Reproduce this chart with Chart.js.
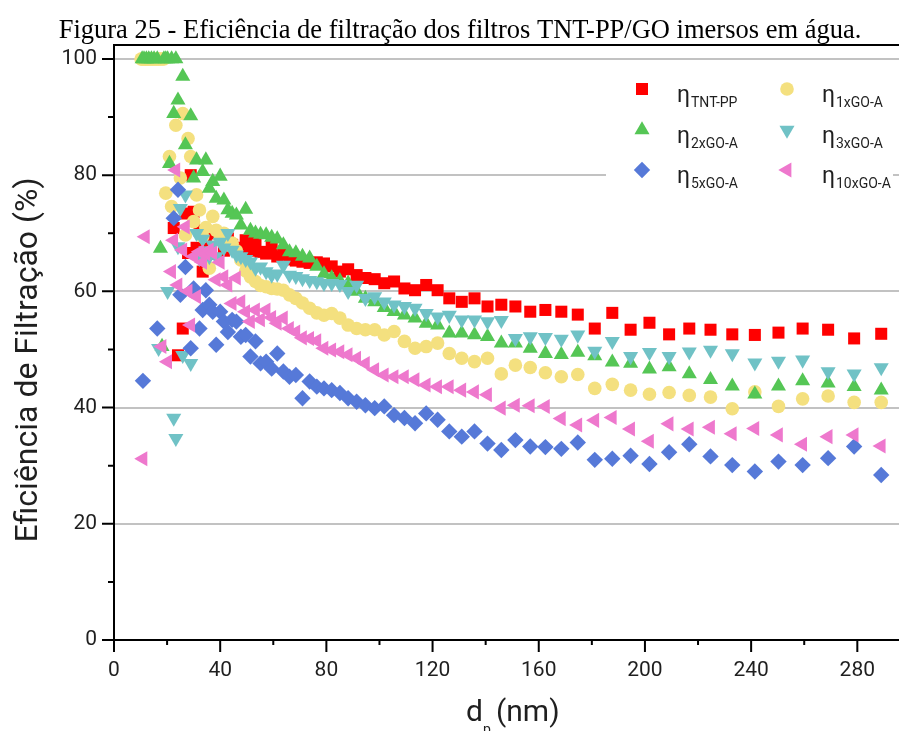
<!DOCTYPE html>
<html>
<head>
<meta charset="utf-8">
<script src="https://cdn.jsdelivr.net/npm/chart.js@4.4.1/dist/chart.umd.min.js"></script>
<style>
  html, body { margin: 0; padding: 0; background: #fff; overflow: hidden; }
  #wrap { width: 899px; height: 731px; position: relative; }
</style>
</head>
<body>
<div id="wrap"><canvas id="chart"></canvas></div>
<script>
// particle mobility diameters (nm), one SMPS channel per entry
const diameters = [
  10.2, 10.6, 10.9, 11.3, 11.8, 12.2, 12.6, 13.1, 13.6, 14.1,
  14.6, 15.1, 15.7, 16.3, 16.8, 17.5, 18.1, 18.8, 19.5, 20.2,
  20.9, 21.7, 22.5, 23.3, 24.1, 25.0, 25.9, 26.9, 27.9, 28.9,
  30.0, 31.1, 32.2, 33.4, 34.6, 35.9, 37.2, 38.5, 40.0, 41.4,
  42.9, 44.5, 46.1, 47.8, 49.6, 51.4, 53.3, 55.2, 57.3, 59.4,
  61.5, 63.8, 66.1, 68.5, 71.0, 73.7, 76.4, 79.1, 82.0, 85.1,
  88.2, 91.4, 94.7, 98.2, 101.8, 105.5, 109.4, 113.4, 117.6, 121.9,
  126.3, 131.0, 135.8, 140.7, 145.9, 151.2, 156.8, 162.5, 168.5, 174.7,
  181.1, 187.7, 194.6, 201.7, 209.1, 216.7, 224.7, 232.9, 241.4, 250.3,
  259.4, 269.0, 278.8, 289.0
];

// filtration efficiency (%) per channel, null = no reading
const etaTNT = [
  null, null, null, null, null, null, null, null, null, null,
  null, null, null, null, null, null, null, null, null, null,
  null, null, 70.9, null, 49.0, null, 53.6, 73.4, 66.6, 80.0,
  73.7, 67.5, 70.5, 63.4, 68.0, 66.5, 70.0, 70.0, 69.4, 67.0,
  69.1, 68.0, 67.5, 67.0, 68.8, 67.0, 68.6, 66.8, 66.5, 67.7,
  66.0, 66.3, 65.5, 65.3, 65.1, 64.9, 65.0, 64.8, 64.3, 63.4,
  63.8, 62.8, 62.3, 62.1, 61.4, 61.7, 60.5, 60.2, 61.1, 60.2,
  58.8, 58.2, 58.8, 57.4, 57.7, 57.4, 56.5, 56.8, 56.5, 56.0,
  53.6, 56.3, 53.4, 54.6, 52.6, 53.6, 53.4, 52.6, 52.5, 52.9,
  53.6, 53.4, 51.9, 52.7
];
const eta1xGO = [
  100, 100, 100, 100, 100, 100, 100, 100, 100, 100,
  100, 100, 100, 100, 100, 100, 100, 100, 76.9, null,
  83.2, 74.6, null, 88.6, null, 79.5, 90.6, 69.7, 86.3, 83.2,
  72.0, 76.6, 74.0, 69.4, 71.0, 64.0, 72.9, 70.5, 69.0, 70.0,
  68.0, 68.3, 67.0, 65.4, 63.5, 62.5, 61.7, 61.0, 60.8, 60.5,
  60.4, 60.2, 59.4, 58.8, 58.0, 57.1, 56.3, 55.9, 56.2, 55.4,
  54.2, 53.6, 53.4, 53.4, 52.5, 53.1, 51.4, 50.2, 50.5, 51.1,
  49.3, 48.5, 47.9, 48.5, 45.8, 47.3, 46.9, 46.0, 45.3, 45.7,
  43.3, 44.0, 43.0, 42.3, 42.6, 42.1, 41.8, 39.8, 42.7, 40.2,
  41.5, 42.0, 40.9, 40.9
];
const eta2xGO = [
  null, 100, null, 100, null, 100, null, 100, null, 100,
  null, 100, null, 100, null, 67.4, 50.5, 100, 100, 100,
  82.0, 100, 90.6, 100, 92.9, null, 97.0, 85.2, null, 90.2,
  79.5, 82.6, null, 80.6, 82.6, 77.7, 78.9, 76.0, 79.8, 75.7,
  74.0, 73.4, 73.1, 71.4, 74.1, 70.5, 70.0, 69.8, 69.7, 69.3,
  69.0, 68.0, 66.8, 66.6, 66.0, 65.7, 64.3, 63.0, 62.3, 61.8,
  61.4, 60.0, 58.8, 58.2, 57.2, 56.5, 55.9, 55.4, 54.5, 54.2,
  52.8, 52.8, 52.5, 52.2, 51.1, 51.1, 50.2, 49.3, 49.1, 49.5,
  48.9, 47.8, 47.6, 46.6, 47.0, 45.8, 44.8, 43.7, 42.3, 43.7,
  44.6, 44.2, 43.6, 43.0
];
const eta3xGO = [
  null, null, null, null, null, null, null, null, null, null,
  null, null, null, null, 50.2, null, null, null, null, 60.0,
  null, null, 38.2, 34.7, 67.7, 74.3, 49.0, 76.6, null, 47.6,
  null, 70.0, 65.7, 69.0, 67.0, 66.0, 68.0, 66.0, 68.5, 67.5,
  70.0, 67.1, 66.3, 66.0, 65.5, 65.1, 64.0, 64.2, 63.4, 62.8,
  63.0, 64.5, 62.8, 62.6, 62.2, 61.9, 61.7, 61.4, 61.4, 61.2,
  60.0, 61.1, 58.8, 59.1, 58.2, 57.7, 57.4, 57.1, 56.2, 55.6,
  55.9, 55.1, 55.1, 54.8, 55.0, 51.9, 52.2, 52.1, 51.8, 52.5,
  49.7, 51.4, 48.8, 49.5, 48.8, 49.6, 49.9, 49.3, 47.7, 48.0,
  48.2, 46.2, 45.8, 46.9
];
const eta5xGO = [
  null, null, 44.6, null, null, null, null, null, null, null,
  null, null, null, 53.6, null, null, null, null, null, null,
  null, null, 72.6, null, 77.5, 59.4, null, 64.2, null, 50.2,
  60.5, null, 53.6, 56.8, 60.2, 57.7, 56.5, 50.8, 56.5, 54.8,
  53.0, 55.1, 54.8, 52.2, 52.5, 48.8, 51.4, 47.6, 47.9, 46.7,
  49.3, 46.2, 45.3, 45.6, 41.6, 44.5, 43.6, 43.3, 43.0, 42.5,
  41.6, 41.0, 40.4, 39.9, 40.2, 38.7, 38.2, 37.3, 39.0, 37.9,
  35.9, 35.0, 35.9, 33.8, 32.7, 34.4, 33.3, 33.2, 32.9, 34.0,
  31.0, 31.2, 31.7, 30.3, 32.3, 33.7, 31.6, 30.1, 29.0, 30.7,
  30.1, 31.3, 33.3, 28.4
];
const eta10xGO = [
  null, null, 31.2, null, 69.4, null, null, null, null, null,
  null, null, null, null, null, null, 50.5, null, null, 47.9,
  null, 63.4, 68.8, 80.9, 61.1, null, 67.1, 71.1, 60.0, 54.2,
  66.0, 59.1, 66.8, 65.0, 66.5, 67.1, 66.6, 62.0, 65.0, 62.5,
  61.1, 57.9, 62.3, 58.2, 56.5, 54.8, 56.8, 55.1, 56.8, 55.5,
  54.5, 55.4, 53.6, 53.0, 52.0, 51.9, 51.5, 50.2, 49.9, 49.6,
  49.1, 48.5, 47.6, 46.5, 45.6, 45.3, 45.3, 44.8, 43.9, 43.6,
  43.6, 43.0, 42.7, 42.2, 39.9, 40.4, 40.3, 40.2, 38.1, 37.0,
  37.8, 38.3, 36.3, 34.2, 37.2, 36.3, 36.6, 35.5, 36.4, 35.3,
  33.7, 35.0, 35.3, 33.4
];

const xTicks = [0, 40, 80, 120, 160, 200, 240, 280];
const xMinorTicks = [20, 60, 100, 140, 180, 220, 260];
const yTicks = [0, 20, 40, 60, 80, 100];
const yMinorTicks = [10, 30, 50, 70, 90];

const series = [
  { sub: 'TNT-PP', values: etaTNT, color: '#ff0000', style: 'rect', rotation: 0, radius: 8.5 },
  { sub: '1xGO-A', values: eta1xGO, color: '#f4e07f', style: 'circle', rotation: 0, radius: 6.8 },
  { sub: '2xGO-A', values: eta2xGO, color: '#55c655', style: 'triangle', rotation: 0, radius: 8.7 },
  { sub: '3xGO-A', values: eta3xGO, color: '#70c2c6', style: 'triangle', rotation: 180, radius: 8.7 },
  { sub: '5xGO-A', values: eta5xGO, color: '#5679d8', style: 'rectRot', rotation: 0, radius: 8.2 },
  { sub: '10xGO-A', values: eta10xGO, color: '#ee78cd', style: 'triangle', rotation: -90, radius: 8.7 }
];

function toPoints(values) {
  const pts = [];
  values.forEach((v, i) => {
    if (v !== null) pts.push({ x: diameters[i], y: v });
  });
  return pts;
}

const textColor = '#1f1f1f';
const sansFont = 'Roboto, "Noto Sans", sans-serif';

// axes decorations, titles and the legend with subscripts
const decorPlugin = {
  id: 'decor',
  afterDraw(chart) {
    const ctx = chart.ctx;
    const xs = chart.scales.x, ys = chart.scales.y;
    const area = chart.chartArea;
    ctx.save();

    // tick marks, long at labelled values and short in between
    ctx.strokeStyle = '#000';
    ctx.lineWidth = 2;
    ctx.beginPath();
    xTicks.forEach(v => { const px = xs.getPixelForValue(v); ctx.moveTo(px, area.bottom); ctx.lineTo(px, area.bottom + 12); });
    xMinorTicks.forEach(v => { const px = xs.getPixelForValue(v); ctx.moveTo(px, area.bottom); ctx.lineTo(px, area.bottom + 5); });
    yTicks.forEach(v => { const py = ys.getPixelForValue(v); ctx.moveTo(area.left, py); ctx.lineTo(area.left - 12, py); });
    yMinorTicks.forEach(v => { const py = ys.getPixelForValue(v); ctx.moveTo(area.left, py); ctx.lineTo(area.left - 6, py); });
    // top frame line
    ctx.moveTo(area.left - 1, area.top);
    ctx.lineTo(area.right, area.top);
    ctx.stroke();

    // figure caption
    ctx.fillStyle = '#000';
    ctx.font = '26.5px "Liberation Serif", "Times New Roman", serif';
    ctx.textAlign = 'center';
    ctx.textBaseline = 'alphabetic';
    ctx.fillText('Figura 25 - Eficiência de filtração dos filtros TNT-PP/GO imersos em água.', 460, 38);

    // y axis title
    ctx.fillStyle = textColor;
    ctx.font = '32px ' + sansFont;
    ctx.save();
    ctx.translate(37, 360);
    ctx.rotate(-Math.PI / 2);
    ctx.textAlign = 'center';
    ctx.fillText('Eficiência de Filtração (%)', 0, 0);
    ctx.restore();

    // x axis title with subscript p
    ctx.textAlign = 'left';
    ctx.font = '30px ' + sansFont;
    ctx.fillText('d', 466, 721);
    ctx.font = '14px ' + sansFont;
    ctx.fillText('p', 483, 734);
    ctx.font = '30px ' + sansFont;
    ctx.fillText('(nm)', 496, 721);

    // legend box
    ctx.fillStyle = '#fff';
    ctx.fillRect(606, 64, 287, 132);
    const colX = [642, 787];
    const rowY = [89, 130, 170];
    series.forEach((s, i) => {
      const mx = colX[i % 2];
      const my = rowY[Math.floor(i / 2)];
      ctx.fillStyle = s.color;
      Chart.helpers.drawPoint(ctx, { pointStyle: s.style, rotation: s.rotation, radius: s.radius, borderWidth: 0 }, mx, my);
      ctx.fillStyle = textColor;
      ctx.textAlign = 'left';
      ctx.font = '23px ' + sansFont;
      ctx.fillText('η', mx + 35, my + 13);
      ctx.font = '14px ' + sansFont;
      ctx.fillText(s.sub, mx + 49, my + 18);
    });

    ctx.restore();
  }
};

// later series are painted over earlier ones
const datasets = series.map((s, i) => ({
  label: 'η ' + s.sub,
  data: toPoints(s.values),
  order: series.length - i,
  pointStyle: s.style,
  rotation: s.rotation,
  pointRadius: s.radius,
  pointBackgroundColor: s.color,
  pointBorderWidth: 0,
  showLine: false
}));

const ctx = document.getElementById('chart').getContext('2d');
const myChart = new Chart(ctx, {
  type: 'scatter',
  data: { datasets: datasets },
  options: {
    responsive: true,
    maintainAspectRatio: false,
    animation: false,
    devicePixelRatio: 1,
    layout: { autoPadding: false, padding: { top: 45, right: 0, left: 0, bottom: 0 } },
    plugins: {
      legend: { display: false },
      tooltip: { enabled: false },
      title: { display: false }
    },
    scales: {
      x: {
        type: 'linear',
        min: 0,
        max: 295.7,
        afterFit: scale => { scale.height = 91; scale.paddingLeft = 0; scale.paddingRight = 0; },
        afterBuildTicks: scale => { scale.ticks = xTicks.map(v => ({ value: v })); },
        grid: { display: false, drawTicks: false },
        border: { color: '#000', width: 2 },
        ticks: { font: { family: sansFont, size: 21 }, color: textColor, padding: 18, maxRotation: 0 }
      },
      y: {
        type: 'linear',
        min: 0,
        max: 102.4,
        afterFit: scale => { scale.width = 114; scale.paddingTop = 0; scale.paddingBottom = 0; },
        afterBuildTicks: scale => { scale.ticks = yTicks.map(v => ({ value: v })); },
        grid: {
          drawTicks: false,
          lineWidth: 2,
          color: c => (c.tick && c.tick.value > 0 ? '#c2c2c2' : 'rgba(0,0,0,0)')
        },
        border: { color: '#000', width: 2 },
        ticks: { font: { family: sansFont, size: 21 }, color: textColor, padding: 17 }
      }
    }
  },
  plugins: [decorPlugin]
});
</script>
</body>
</html>
